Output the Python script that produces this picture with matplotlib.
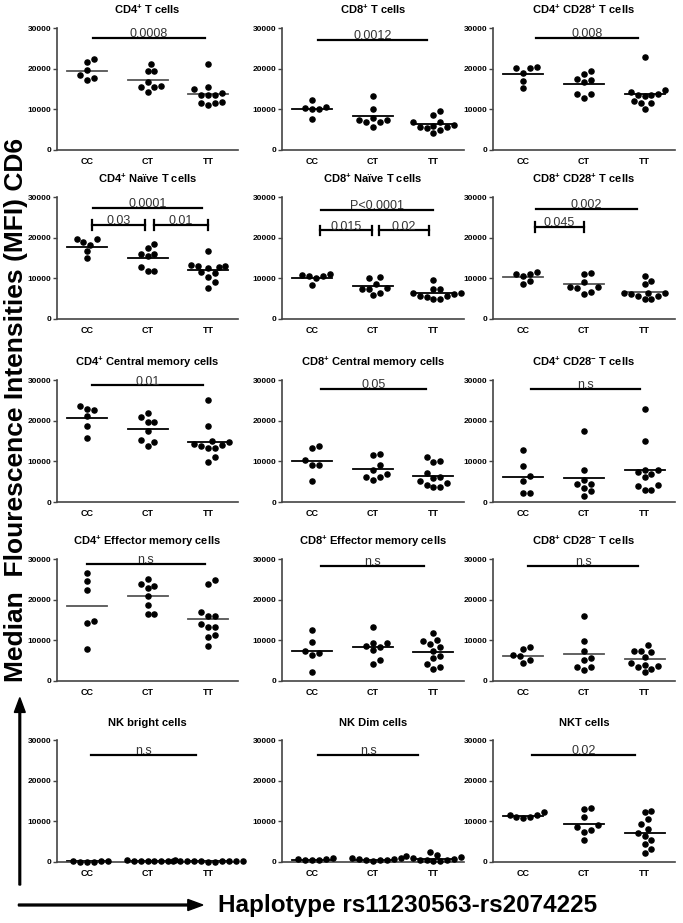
import numpy as np
import matplotlib
matplotlib.use("Agg")
import matplotlib.pyplot as plt

plt.rcParams['font.family'] = ['Liberation Sans', 'DejaVu Sans']
plt.rcParams['mathtext.fontset'] = 'custom'
plt.rcParams['mathtext.rm'] = 'Liberation Sans'
plt.rcParams['mathtext.bf'] = 'Liberation Sans:bold'
plt.rcParams['mathtext.default'] = 'bf'

groups = ["CC", "CT", "TT"]

titles = [
    r"CD4$^{+}$ T cells", r"CD8$^{+}$ T cells", r"CD4$^{+}$ CD28$^{+}$ T cells",
    r"CD4$^{+}$ Naïve T cells", r"CD8$^{+}$ Naïve T cells", r"CD8$^{+}$ CD28$^{+}$ T cells",
    r"CD4$^{+}$ Central memory cells", r"CD8$^{+}$ Central memory cells", r"CD4$^{+}$ CD28$^{-}$ T cells",
    r"CD4$^{+}$ Effector memory cells", r"CD8$^{+}$ Effector memory cells", r"CD8$^{+}$ CD28$^{-}$ T cells",
    "NK bright cells", "NK Dim cells", "NKT cells",
]

# MFI values per panel: [CC, CT, TT]
cd4_t = [[22500, 21600, 19700, 18500, 17700, 17200],
         [21200, 19500, 19500, 16800, 15500, 15500, 15700, 14200],
         [21100, 15600, 14000, 13600, 13600, 13600, 14900, 11500, 11000, 11500, 11800]]
cd8_t = [[10700, 12200, 10200, 10200, 10300, 7700],
         [13400, 10100, 7900, 7400, 7300, 7000, 5700, 6800],
         [9700, 8500, 6900, 6800, 6200, 5900, 5300, 5700, 5600, 4900, 4100]]
cd4_cd28p = [[20200, 19000, 20200, 20500, 17100, 15200],
             [19500, 18700, 17200, 16800, 17500, 13800, 13700, 12800],
             [22800, 14800, 14200, 13900, 13600, 13500, 13400, 12000, 11600, 11500, 10100]]
cd4_naive = [[19000, 19800, 19600, 18200, 16700, 14900],
             [18400, 17400, 16000, 15500, 15900, 12900, 11900, 11900],
             [16700, 13300, 12600, 13000, 13100, 12900, 11400, 11500, 10300, 9100, 7700]]
cd8_naive = [[10900, 10000, 10600, 10500, 11200, 8300],
             [10000, 10300, 8600, 7600, 7500, 6400, 5900, 7500],
             [9500, 7500, 7500, 6300, 5700, 5500, 4900, 4900, 5700, 6200, 6300]]
cd8_cd28p = [[11600, 11100, 10700, 11200, 9400, 8700],
             [11100, 11300, 9100, 7600, 7900, 7900, 6200, 6600],
             [10700, 9300, 8700, 6400, 6400, 5600, 4900, 4900, 5600, 6200, 6400]]
cd4_cm = [[23700, 22600, 23000, 21200, 18800, 15700],
          [21800, 20900, 19800, 19800, 17600, 15300, 14900, 13900],
          [25100, 18700, 15000, 14800, 14200, 13900, 13400, 13400, 14000, 11000, 9800]]
cd8_cm = [[13200, 13700, 10400, 9000, 9000, 5100],
          [11700, 11900, 9200, 7900, 6800, 6100, 6100, 5300],
          [11000, 9800, 10000, 7100, 5900, 6100, 5100, 4100, 3800, 3800, 4700]]
cd4_cd28n = [[12800, 8800, 6300, 5100, 2200, 2300],
             [17600, 8000, 5300, 4500, 4500, 3400, 2600, 1500],
             [22900, 15000, 8000, 8000, 7500, 6800, 6100, 3900, 4100, 2900, 3000]]
cd4_em = [[26700, 24600, 22500, 14800, 14300, 7900],
          [25000, 23400, 22800, 23800, 20900, 18700, 16500, 16500],
          [24800, 23900, 17000, 16000, 16000, 14000, 13400, 13300, 11400, 10800, 8700]]
cd8_em = [[12500, 9500, 7500, 6800, 6400, 2100],
          [13200, 9400, 9400, 8300, 7600, 8700, 4300, 5200],
          [11700, 10200, 9800, 9000, 8400, 7400, 6200, 5600, 4100, 3500, 2900]]
cd8_cd28n = [[8300, 7800, 6300, 6100, 5200, 4400],
             [16000, 9900, 7500, 5700, 5200, 3400, 3400, 2700],
             [8900, 7500, 7200, 7500, 6000, 4500, 3900, 3800, 3400, 3000, 2100]]
nk_bright = [[150, 100, 200, 120, 80, 180],
             [300, 250, 350, 400, 200, 280, 320, 500],
             [200, 150, 250, 180, 300, 120, 220, 260, 100, 170, 240]]
nk_dim = [[800, 600, 500, 700, 400, 900],
          [700, 900, 600, 500, 800, 400, 300, 1000],
          [2500, 1800, 1200, 900, 700, 600, 500, 400, 300, 200, 1500]]
nkt = [[12400, 11500, 11200, 11000, 11600, 10800],
       [13400, 13000, 11000, 9000, 8500, 8000, 7500, 5500],
       [12600, 12400, 10500, 9300, 8200, 7200, 6500, 5500, 4500, 3200, 2300]]

panels = [cd4_t, cd8_t, cd4_cd28p, cd4_naive, cd8_naive, cd8_cd28p,
          cd4_cm, cd8_cm, cd4_cd28n, cd4_em, cd8_em, cd8_cd28n,
          nk_bright, nk_dim, nkt]

# horizontal line (median) per group
centers = [[19500, 17200, 13800], [10200, 8400, 6300], [18700, 16300, 13700],
           [17800, 14900, 12000], [10200, 8100, 6300], [10400, 8500, 6700],
           [20700, 18000, 14700], [10100, 8200, 6500], [6100, 6000, 8000],
           [18400, 21000, 15300], [7500, 8300, 7100], [6200, 6600, 5300],
           [200, 250, 200], [600, 600, 700], [11300, 9300, 7100]]
line_cols = ['#555555', 'k', 'k', 'k', 'k', '#555555', 'k', 'k', 'k',
             '#555555', 'k', '#555555', 'k', 'k', 'k']

# significance bars: (x0, x1, y, label, capped)
sig = [
    [(0.1, 1.95, 27500, "0.0008", False)],
    [(0.1, 1.9, 27000, "0.0012", False)],
    [(0.2, 1.9, 27600, "0.008", False)],
    [(0.1, 1.9, 27400, "0.0001", False), (0.08, 0.95, 23100, "0.03", True),
     (1.1, 2.0, 23100, "0.01", True)],
    [(0.14, 2.0, 26900, "P<0.0001", False), (0.12, 0.98, 21800, "0.015", True),
     (1.1, 1.93, 21800, "0.02", True)],
    [(0.2, 1.88, 27100, "0.002", False), (0.19, 1.0, 22600, "0.045", True)],
    [(0.08, 1.92, 28700, "0.01", False)],
    [(0.15, 1.87, 27800, "0.05", False)],
    [(0.13, 1.93, 27800, "n.s", False)],
    [(0.0, 1.95, 28900, "n.s", False)],
    [(0.15, 1.85, 28400, "n.s", False)],
    [(0.08, 1.9, 28300, "n.s", False)],
    [(0.07, 1.8, 26300, "n.s", False)],
    [(0.1, 1.75, 26300, "n.s", False)],
    [(0.15, 1.85, 26300, "0.02", False)],
]


def swarm(vals, d=7.0, xpx=61.0, ypx=122.0 / 30000):
    vals = np.asarray(vals, float)
    xs = np.zeros(len(vals))
    placed = []
    for i in np.argsort(vals):
        y = vals[i] * ypx
        for k in range(0, 60):
            off = ((k + 1) // 2) * 0.5 * d * (1 if k % 2 else -1)
            if all((off - px) ** 2 + (y - py) ** 2 >= d * d for px, py in placed):
                break
        placed.append((off, y))
        xs[i] = off / xpx
    return xs


fig = plt.figure(figsize=(6.83, 9.23), dpi=100)
lefts = [0.083, 0.413, 0.722]
width = 0.266
bottoms = [0.8375, 0.6544, 0.4561, 0.2622, 0.0661]
height = 0.132

for n, data in enumerate(panels):
    r, c = divmod(n, 3)
    ax = fig.add_axes([lefts[c], bottoms[r], width, height])
    for g, vals in enumerate(data):
        xs = g + swarm(vals)
        ax.plot(xs, vals, 'o', color='k', ms=3.7, clip_on=False, zorder=3)
        ax.plot([g - 0.33, g + 0.33], [centers[n][g]] * 2, color=line_cols[n], lw=1.3, zorder=2)
    for x0, x1, y, lab, capped in sig[n]:
        ax.plot([x0, x1], [y, y], color='k', lw=1.6, clip_on=False)
        if capped:
            for xx in (x0, x1):
                ax.plot([xx, xx], [y - 1200, y + 1200], color='k', lw=1.6, clip_on=False)
        ax.annotate(lab, ((x0 + x1) / 2, y), xytext=(0, -1.5), textcoords='offset points',
                    ha='center', va='bottom', fontsize=9, color='#333333')
    ax.set_xlim(-0.5, 2.5)
    ax.set_ylim(0, 30000)
    ax.set_xticks([0, 1, 2])
    ax.set_xticklabels(groups, fontweight='bold', fontsize=6.5)
    ax.set_yticks([0, 10000, 20000, 30000])
    ax.set_yticklabels(["0", "10000", "20000", "30000"], fontweight='bold', fontsize=6)
    ax.tick_params(axis='x', length=0, pad=5)
    ax.tick_params(axis='y', length=3, width=1, color='#444444', pad=1)
    for s in ('top', 'right'):
        ax.spines[s].set_visible(False)
    for s in ('left', 'bottom'):
        ax.spines[s].set_color('#444444')
        ax.spines[s].set_linewidth(1.2)
    ax.set_title(titles[n], fontsize=8, fontweight='bold', pad=10)

fig.text(0.024, 0.556, "Median  Flourescence Intensities (MFI) CD6", rotation=90,
         ha='center', va='center', fontsize=19, fontweight='bold')
fig.text(0.596, 0.0195, "Haplotype rs11230563-rs2074225", ha='center', va='center',
         fontsize=17.5, fontweight='bold')
fig.patches.append(matplotlib.patches.FancyArrow(0.027, 1 - 905 / 923, 0.27, 0, width=0.002,
                                                 head_width=0.012, head_length=0.022,
                                                 length_includes_head=True, color='k',
                                                 transform=fig.transFigure))
fig.patches.append(matplotlib.patches.FancyArrow(0.029, 1 - 885 / 923, 0, 0.203, width=0.0025,
                                                 head_width=0.016, head_length=0.016,
                                                 length_includes_head=True, color='k',
                                                 transform=fig.transFigure))

fig.savefig("out.png", dpi=100)
